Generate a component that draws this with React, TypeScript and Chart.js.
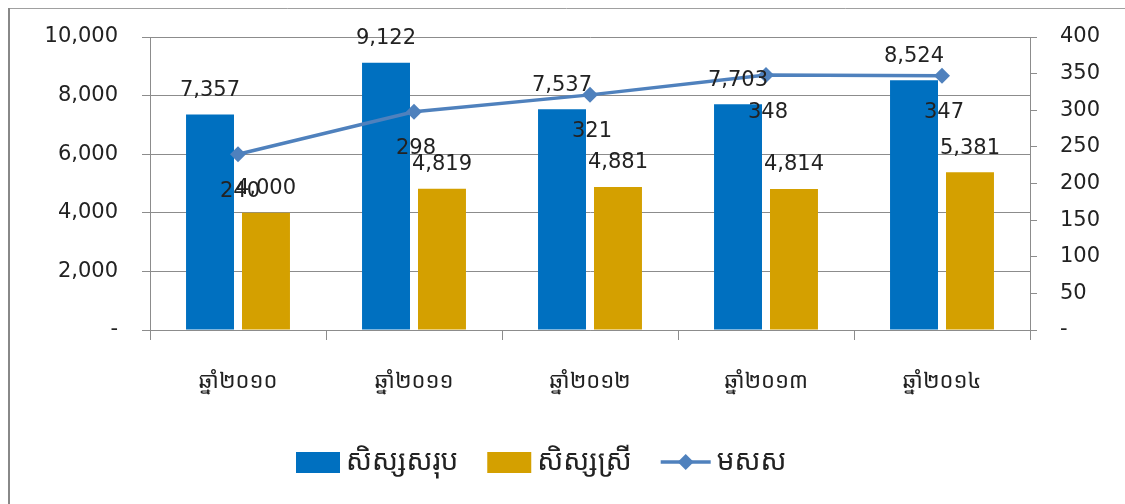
import React, { useEffect, useRef } from "react";
import { Chart, registerables } from "chart.js";

Chart.register(...registerables);

const categories = ["ឆ្នាំ២០១០", "ឆ្នាំ២០១១", "ឆ្នាំ២០១២", "ឆ្នាំ២០១៣", "ឆ្នាំ២០១៤"];
const totalLabel = "សិស្សសរុប";
const femaleLabel = "សិស្សស្រី";
const ratioLabel = "មសស";
const totalStudents = [7357, 9122, 7537, 7703, 8524];
const femaleStudents = [4000, 4819, 4881, 4814, 5381];
const ratioValues = [240, 298, 321, 348, 347];

const BLUE = "#0070C0";
const GOLD = "#D4A000";
const LINE = "#4F81BD";
const GRID = "#8C8C8C";
const TEXT = "#222222";
const NUM_FONT = "'DejaVu Sans', sans-serif";
const KH_FONT = "'Noto Sans Khmer', 'Khmer OS', 'Khmer OS System', 'Noto Serif Khmer', 'Noto Sans', sans-serif";

const fmt = (v: number) => (v === 0 ? "-" : v.toLocaleString("en-US"));

const framePlugin = {
  id: "frame",
  beforeDraw(chart: any) {
    const ctx = chart.ctx;
    ctx.save();
    ctx.fillStyle = "#ffffff";
    ctx.fillRect(0, 0, chart.width, chart.height);
    ctx.strokeStyle = "#A0A0A0";
    ctx.lineWidth = 1;
    ctx.beginPath();
    ctx.moveTo(8, 8.5);
    ctx.lineTo(chart.width, 8.5);
    ctx.stroke();
    ctx.strokeStyle = "#888888";
    ctx.lineWidth = 2;
    ctx.beginPath();
    ctx.moveTo(9, 8);
    ctx.lineTo(9, chart.height);
    ctx.stroke();
    ctx.restore();
  },
};

const dataLabelPlugin = {
  id: "dataLabels",
  afterDatasetsDraw(chart: any) {
    const ctx = chart.ctx;
    ctx.save();
    ctx.font = `21px ${NUM_FONT}`;
    ctx.fillStyle = TEXT;
    ctx.textAlign = "center";
    ctx.textBaseline = "middle";
    chart.data.datasets.forEach((ds: any, i: number) => {
      const meta = chart.getDatasetMeta(i);
      meta.data.forEach((el: any, j: number) => {
        const v = ds.data[j];
        if (ds.type === "line") {
          ctx.fillText(String(v), el.x + 2, el.y + 37);
        } else {
          ctx.fillText(fmt(v), el.x, el.y - 24);
        }
      });
    });
    ctx.restore();
  },
};

const legendPlugin = {
  id: "customLegend",
  afterDraw(chart: any) {
    const ctx = chart.ctx;
    ctx.save();
    ctx.font = `28px ${KH_FONT}`;
    ctx.fillStyle = TEXT;
    ctx.textBaseline = "middle";
    ctx.textAlign = "left";
    const cy = 462;
    let x = 296;
    const order = [0, 1, 2];
    order.forEach((i) => {
      const ds = chart.data.datasets[i];
      if (ds.type === "line") {
        ctx.strokeStyle = ds.borderColor;
        ctx.lineWidth = 3.5;
        ctx.beginPath();
        ctx.moveTo(x, cy);
        ctx.lineTo(x + 50, cy);
        ctx.stroke();
        ctx.fillStyle = ds.borderColor;
        ctx.beginPath();
        ctx.moveTo(x + 25, cy - 8);
        ctx.lineTo(x + 33, cy);
        ctx.lineTo(x + 25, cy + 8);
        ctx.lineTo(x + 17, cy);
        ctx.closePath();
        ctx.fill();
        x += 56;
      } else {
        ctx.fillStyle = ds.backgroundColor;
        ctx.fillRect(x, cy - 10, 44, 21);
        x += 50;
      }
      ctx.fillStyle = TEXT;
      ctx.fillText(ds.label, x, cy);
      x += ctx.measureText(ds.label).width + 29;
    });
    ctx.restore();
  },
};

export default function App() {
  const ref = useRef<HTMLCanvasElement | null>(null);
  useEffect(() => {
    if (!ref.current) return;
    const chart = new Chart(ref.current, {
      type: "bar",
      data: {
        labels: categories,
        datasets: [
          {
            type: "bar",
            label: totalLabel,
            data: totalStudents,
            backgroundColor: BLUE,
            yAxisID: "y",
            order: 1,
            categoryPercentage: 0.636,
            barPercentage: 0.857,
          },
          {
            type: "bar",
            label: femaleLabel,
            data: femaleStudents,
            backgroundColor: GOLD,
            yAxisID: "y",
            order: 2,
            categoryPercentage: 0.636,
            barPercentage: 0.857,
          },
          {
            type: "line",
            label: ratioLabel,
            data: ratioValues,
            borderColor: LINE,
            backgroundColor: LINE,
            borderWidth: 3.5,
            pointStyle: "rectRot",
            pointRadius: 8,
            pointBackgroundColor: LINE,
            pointBorderColor: LINE,
            pointBorderWidth: 0,
            tension: 0,
            yAxisID: "y1",
            order: 0,
          } as any,
        ],
      },
      options: {
        animation: false,
        responsive: true,
        maintainAspectRatio: false,
        layout: { padding: { top: 37, left: 0, right: 0, bottom: 94 } },
        plugins: {
          legend: { display: false },
          tooltip: { enabled: false },
        },
        scales: {
          x: {
            afterFit: (s: any) => {
              s.height = 80;
            },
            grid: {
              offset: true,
              drawOnChartArea: false,
              tickLength: 10,
              color: GRID,
            },
            border: { display: true, color: GRID },
            ticks: {
              font: { family: KH_FONT, size: 22 },
              color: TEXT,
              padding: 29,
              maxRotation: 0,
            },
          },
          y: {
            position: "left",
            min: 0,
            max: 10000,
            afterFit: (s: any) => {
              s.width = 150;
            },
            ticks: {
              stepSize: 2000,
              font: { family: NUM_FONT, size: 21 },
              color: TEXT,
              padding: 24,
              callback: (v: any) => fmt(Number(v)),
            },
            grid: { color: GRID, tickLength: 8 },
            border: { display: true, color: GRID },
          },
          y1: {
            position: "right",
            min: 0,
            max: 400,
            afterFit: (s: any) => {
              s.width = 95;
            },
            ticks: {
              stepSize: 50,
              font: { family: NUM_FONT, size: 21 },
              color: TEXT,
              padding: 23,
              callback: (v: any) => fmt(Number(v)),
            },
            grid: { drawOnChartArea: false, color: GRID, tickLength: 7 },
            border: { display: true, color: GRID },
          },
        },
      },
      plugins: [framePlugin, dataLabelPlugin, legendPlugin],
    });
    return () => chart.destroy();
  }, []);
  return (
    <div style={{ position: "fixed", left: 0, top: 0, width: 1125, height: 504 }}>
      <canvas ref={ref} />
    </div>
  );
}
